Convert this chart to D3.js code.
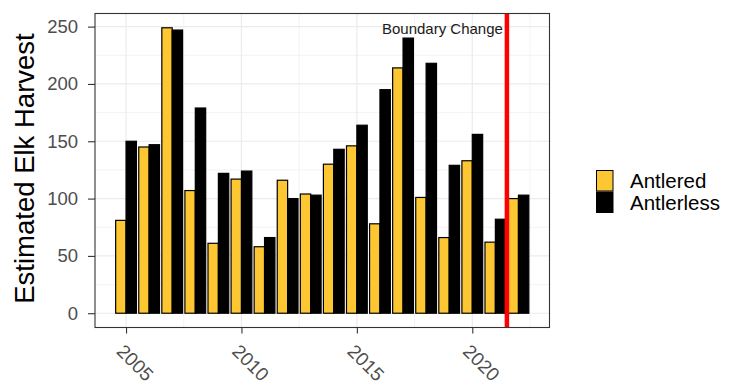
<html>
<head>
    <meta charset="utf-8">
    <title>Estimated Elk Harvest</title>
    <script src="https://cdn.jsdelivr.net/npm/d3@7/dist/d3.min.js"></script>
    <style>
        body { margin: 0; background: #fff; }
        svg { display: block; font-family: "Liberation Sans", Arial, sans-serif; }
    </style>
</head>
<body>
    <svg id="chart" width="747" height="385"></svg>

    <script type="text/javascript">
        // 数据
        var years = [2005, 2006, 2007, 2008, 2009, 2010, 2011, 2012, 2013,
                     2014, 2015, 2016, 2017, 2018, 2019, 2020, 2021, 2022];
        var antlered   = [81, 145, 249, 107, 61, 117, 58, 116, 104,
                          130, 146, 78, 214, 101, 66, 133, 62, 100];
        var antlerless = [150, 147, 247, 179, 122, 124, 66, 100, 103,
                          143, 164, 195, 240, 218, 129, 156, 82, 103];
        var seriesNames = ["Antlered", "Antlerless"];
        var seriesColors = ["#FDC733", "#000000"];
        var xTicks = [2005, 2010, 2015, 2020];
        var yTicks = [0, 50, 100, 150, 200, 250];
        var boundaryYear = 2021.5;
        var boundaryLabel = "Boundary Change";

        // 面板位置
        var panel = { left: 95, right: 549.5, top: 13.5, bottom: 327.5 };

        var rows = [];
        years.forEach(function(y, i) {
            rows.push({ year: y, series: seriesNames[0], value: antlered[i] });
            rows.push({ year: y, series: seriesNames[1], value: antlerless[i] });
        });

        // 类似 ggplot 的 5% 扩展
        var barSpan = 0.9;
        var xMin = d3.min(years) - barSpan / 2, xMax = d3.max(years) + barSpan / 2;
        var xPad = (xMax - xMin) * 0.05;
        var x = d3.scaleLinear()
            .domain([xMin - xPad, xMax + xPad])
            .range([panel.left, panel.right]);

        var yMaxVal = d3.max(rows, function(d) { return d.value; });
        var yPad = yMaxVal * 0.05;
        var y = d3.scaleLinear()
            .domain([-yPad, yMaxVal + yPad])
            .range([panel.bottom, panel.top]);

        var dodge = d3.scaleBand()
            .domain(seriesNames)
            .range([-barSpan / 2, barSpan / 2]);

        var color = d3.scaleOrdinal().domain(seriesNames).range(seriesColors);

        var svg = d3.select("#chart");

        // 网格线
        var grid = svg.append("g");
        var xMinor = [2002.5, 2007.5, 2012.5, 2017.5, 2022.5].filter(function(v) {
            return v > x.domain()[0] && v < x.domain()[1];
        });
        var yMinor = [25, 75, 125, 175, 225];
        grid.selectAll(".ymin").data(yMinor).enter().append("line")
            .attr("x1", panel.left).attr("x2", panel.right)
            .attr("y1", function(d) { return y(d); }).attr("y2", function(d) { return y(d); })
            .attr("stroke", "#EBEBEB").attr("stroke-width", 0.6);
        grid.selectAll(".xmin").data(xMinor).enter().append("line")
            .attr("y1", panel.top).attr("y2", panel.bottom)
            .attr("x1", function(d) { return x(d); }).attr("x2", function(d) { return x(d); })
            .attr("stroke", "#EBEBEB").attr("stroke-width", 0.6);
        grid.selectAll(".ymaj").data(yTicks).enter().append("line")
            .attr("x1", panel.left).attr("x2", panel.right)
            .attr("y1", function(d) { return y(d); }).attr("y2", function(d) { return y(d); })
            .attr("stroke", "#EBEBEB").attr("stroke-width", 1.2);
        grid.selectAll(".xmaj").data(xTicks).enter().append("line")
            .attr("y1", panel.top).attr("y2", panel.bottom)
            .attr("x1", function(d) { return x(d); }).attr("x2", function(d) { return x(d); })
            .attr("stroke", "#EBEBEB").attr("stroke-width", 1.2);

        // 柱子
        var unit = x(1) - x(0);
        svg.append("g").selectAll("rect").data(rows).enter().append("rect")
            .attr("x", function(d) { return x(d.year + dodge(d.series)); })
            .attr("width", dodge.bandwidth() * unit)
            .attr("y", function(d) { return y(d.value); })
            .attr("height", function(d) { return y(0) - y(d.value); })
            .attr("fill", function(d) { return color(d.series); })
            .attr("stroke", "#000")
            .attr("stroke-width", 1.2);

        // 边界变化线
        svg.append("line")
            .attr("x1", x(boundaryYear)).attr("x2", x(boundaryYear))
            .attr("y1", panel.top).attr("y2", panel.bottom)
            .attr("stroke", "#FF0000").attr("stroke-width", 4.5);
        svg.append("text")
            .attr("x", x(boundaryYear) - 4).attr("y", 34)
            .attr("text-anchor", "end")
            .attr("font-size", "15px")
            .attr("fill", "#1a1a1a")
            .text(boundaryLabel);

        // 面板边框
        svg.append("rect")
            .attr("x", panel.left).attr("y", panel.top)
            .attr("width", panel.right - panel.left).attr("height", panel.bottom - panel.top)
            .attr("fill", "none").attr("stroke", "#333333").attr("stroke-width", 1.1);

        // 坐标轴
        var yAxis = svg.append("g")
            .attr("transform", "translate(" + panel.left + ",0)")
            .call(d3.axisLeft(y).tickValues(yTicks).tickSize(7).tickPadding(10));
        yAxis.select(".domain").remove();
        yAxis.selectAll("line").attr("stroke", "#333333").attr("stroke-width", 1.1);
        yAxis.selectAll("text")
            .attr("font-size", "18.5px").attr("fill", "#4D4D4D")
            .attr("font-family", "Liberation Sans, Arial, sans-serif");

        var xAxis = svg.append("g")
            .attr("transform", "translate(0," + panel.bottom + ")")
            .call(d3.axisBottom(x).tickValues(xTicks).tickFormat(d3.format("d")).tickSize(6));
        xAxis.select(".domain").remove();
        xAxis.selectAll("line").attr("stroke", "#333333").attr("stroke-width", 1.1);
        xAxis.selectAll("text")
            .attr("x", 0).attr("y", 0).attr("dy", null)
            .attr("text-anchor", "start")
            .attr("transform", "translate(-11,25) rotate(45)")
            .attr("font-size", "19px").attr("fill", "#4D4D4D")
            .attr("font-family", "Liberation Sans, Arial, sans-serif");

        // 轴标题
        svg.append("text")
            .attr("transform", "translate(34," + ((panel.top + panel.bottom) / 2 - 2) + ") rotate(-90)")
            .attr("text-anchor", "middle")
            .attr("font-size", "27.5px")
            .attr("fill", "#000")
            .text("Estimated Elk Harvest");

        // 图例
        var legend = svg.append("g").attr("transform", "translate(596,170)");
        var items = legend.selectAll("g").data(seriesNames).enter().append("g")
            .attr("transform", function(d, i) { return "translate(0," + (i * 21.5) + ")"; });
        items.append("rect")
            .attr("x", 0.5).attr("y", 0.5)
            .attr("width", 16.5).attr("height", 20.5)
            .attr("fill", function(d) { return color(d); })
            .attr("stroke", "#000").attr("stroke-width", 1);
        items.append("text")
            .attr("x", 34).attr("y", 11)
            .attr("dy", "0.35em")
            .attr("font-size", "20.5px")
            .attr("fill", "#000")
            .text(function(d) { return d; });
    </script>
</body>
</html>
